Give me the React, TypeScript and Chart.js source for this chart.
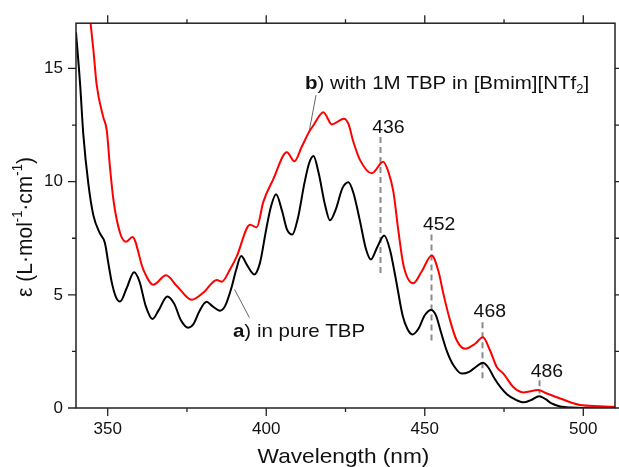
import { useEffect, useRef } from "react";
import { Chart, registerables } from "chart.js";

Chart.register(...registerables);

// a) in pure TBP (black)
const pureWl = [340, 341.3, 342.3, 343.9, 345.5, 347.6, 349.1, 350.2, 351.3, 352.6, 353.9, 356, 358.3, 360, 362, 364.1, 366, 368.8, 371, 373, 375.4, 377, 379, 381.2, 383, 385.4, 387, 389, 390.5, 392.1, 394, 396.2, 398, 400, 401.5, 403.1, 405, 406.5, 408.2, 410, 412, 413.5, 414.9, 416.5, 418.5, 420.1, 422, 424, 425.9, 427.5, 429.5, 431.5, 433, 435, 437.2, 439, 441, 443, 444.5, 446.1, 448, 450, 452, 453.5, 455, 457, 459, 461.7, 464, 466, 468.3, 470, 472, 474, 476, 478.5, 481.2, 483.5, 486.1, 488, 490, 492.7, 496, 500, 505, 510];
const pureEps = [16.6, 14.3, 12.1, 9.9, 8.5, 7.7, 7.3, 6.4, 5.54, 4.9, 4.7, 5.3, 6.0, 5.6, 4.5, 3.93, 4.3, 4.93, 4.6, 3.9, 3.55, 3.7, 4.3, 4.69, 4.5, 4.3, 4.5, 5.3, 6.1, 6.71, 6.3, 5.9, 6.4, 7.9, 8.9, 9.44, 8.7, 7.9, 7.66, 8.4, 9.9, 10.8, 11.13, 10.4, 9.0, 8.29, 8.8, 9.7, 9.97, 9.5, 8.3, 7.0, 6.56, 7.1, 7.62, 7.0, 5.6, 4.1, 3.5, 3.25, 3.5, 4.1, 4.33, 4.1, 3.4, 2.5, 1.9, 1.52, 1.6, 1.8, 2.0, 1.8, 1.3, 0.9, 0.6, 0.38, 0.25, 0.35, 0.52, 0.4, 0.2, 0.07, 0.02, 0, 0, 0];

// b) with 1M TBP in [Bmim][NTf2] (red)
const ilWl = [343.8, 344.6, 345.5, 346.5, 348.6, 349.7, 350.7, 351.8, 353.9, 355.8, 357.8, 361.2, 364.4, 368.4, 371.8, 376.5, 380.2, 384.4, 386, 388.6, 390.7, 394.9, 397, 399.1, 402.2, 406.5, 408.9, 411.2, 413.5, 414.9, 418, 420.7, 424.5, 425.9, 427.5, 429.6, 433.3, 436.9, 438.5, 440.1, 441.7, 443.3, 446.4, 449.1, 452.2, 454.3, 455.9, 458, 460.1, 462.7, 465.9, 468.3, 470.6, 472.7, 474.8, 477.9, 481.1, 485.8, 488.5, 492.7, 499, 505, 510];
const ilEps = [18.2, 17.0, 15.8, 14.3, 12.85, 12.27, 10.66, 9.2, 7.73, 7.34, 7.56, 6.13, 5.45, 5.86, 5.39, 4.78, 5.1, 5.66, 5.58, 6.13, 6.7, 8.1, 7.98, 9.12, 10.1, 11.3, 10.9, 11.54, 12.19, 12.49, 13.07, 12.53, 12.78, 12.56, 11.75, 10.95, 10.37, 10.88, 10.44, 9.56, 7.8, 6.3, 5.51, 6.05, 6.74, 6.05, 5.03, 3.86, 2.98, 2.62, 2.84, 3.13, 2.54, 1.81, 1.52, 0.93, 0.69, 0.79, 0.64, 0.42, 0.13, 0.08, 0.05];

const xMajor = [350, 400, 450, 500];
const xMinor = [375, 425, 475];
const yMajor = [0, 5, 10, 15];
const yMinor = [2.5, 7.5, 12.5];

const peakWl = [436, 452, 468, 486];
const peakTop = [11.97, 7.66, 3.79, 1.23];
const peakBottom = [5.92, 2.84, 1.15, 0.64];
const peakLabelY = [12.37, 8.1, 4.22, 1.57];

const FONT = "'Liberation Sans', Arial, sans-serif";
const STRETCH = 1.08;

const decorPlugin = {
  id: "decor",
  beforeDatasetsDraw(chart: any) {
    const ctx = chart.ctx;
    const xs = chart.scales.x;
    const ys = chart.scales.y;
    ctx.save();
    ctx.strokeStyle = "#8a8a8a";
    ctx.lineWidth = 2;
    ctx.setLineDash([6, 4]);
    peakWl.forEach((wl, i) => {
      const px = Math.round(xs.getPixelForValue(wl)) + 0.5;
      ctx.beginPath();
      ctx.moveTo(px, ys.getPixelForValue(peakTop[i]));
      ctx.lineTo(px, ys.getPixelForValue(peakBottom[i]));
      ctx.stroke();
    });
    ctx.restore();
  },
  afterDraw(chart: any) {
    const ctx = chart.ctx;
    const xs = chart.scales.x;
    const ys = chart.scales.y;
    const { left, right, top, bottom } = chart.chartArea;
    ctx.save();
    // frame
    ctx.strokeStyle = "#222";
    ctx.lineWidth = 1.5;
    ctx.strokeRect(left, top, right - left, bottom - top);
    // ticks
    ctx.lineWidth = 1.3;
    const xt = (v: number, len: number) => {
      const p = xs.getPixelForValue(v);
      ctx.beginPath();
      ctx.moveTo(p, bottom);
      ctx.lineTo(p, bottom + len);
      ctx.moveTo(p, top);
      ctx.lineTo(p, top - len);
      ctx.stroke();
    };
    const yt = (v: number, len: number) => {
      const p = ys.getPixelForValue(v);
      ctx.beginPath();
      ctx.moveTo(left, p);
      ctx.lineTo(left - len, p);
      ctx.moveTo(right, p);
      ctx.lineTo(right + len, p);
      ctx.stroke();
    };
    xMajor.forEach((v) => xt(v, 8));
    xMinor.forEach((v) => xt(v, 4));
    yMajor.forEach((v) => yt(v, 8));
    yMinor.forEach((v) => yt(v, 4));

    // stretched text helper (centered or left)
    const sText = (t: string, x: number, y: number, align: "left" | "center") => {
      ctx.save();
      ctx.translate(x, y);
      ctx.scale(STRETCH, 1);
      ctx.textAlign = align;
      ctx.textBaseline = "middle";
      ctx.fillText(t, 0, 0);
      ctx.restore();
    };

    // peak labels
    ctx.fillStyle = "#111";
    ctx.font = `18px ${FONT}`;
    peakWl.forEach((wl, i) => {
      sText(String(wl), xs.getPixelForValue(wl) + 8, ys.getPixelForValue(peakLabelY[i]), "center");
    });

    // leader lines
    ctx.strokeStyle = "#555";
    ctx.lineWidth = 0.9;
    ctx.beginPath();
    ctx.moveTo(xs.getPixelForValue(415.7), ys.getPixelForValue(13.82));
    ctx.lineTo(xs.getPixelForValue(413.5), ys.getPixelForValue(12.19));
    ctx.moveTo(xs.getPixelForValue(390.0), ys.getPixelForValue(5.24));
    ctx.lineTo(xs.getPixelForValue(394.7), ys.getPixelForValue(3.99));
    ctx.stroke();

    // series labels
    const drawParts = (x: number, y: number, parts: { t: string; bold?: boolean; sub?: boolean }[], size: number) => {
      let cx = x;
      parts.forEach((p) => {
        const s = p.sub ? Math.round(size * 0.62) : size;
        ctx.font = `${p.bold ? "bold " : ""}${s}px ${FONT}`;
        sText(p.t, cx, p.sub ? y + size * 0.3 : y, "left");
        cx += ctx.measureText(p.t).width * STRETCH;
      });
    };
    ctx.fillStyle = "#111";
    drawParts(xs.getPixelForValue(412.2), ys.getPixelForValue(14.31), [
      { t: "b", bold: true },
      { t: ") with 1M TBP in [Bmim][NTf" },
      { t: "2", sub: true },
      { t: "]" },
    ], 19);
    drawParts(xs.getPixelForValue(389.5), ys.getPixelForValue(3.35), [
      { t: "a", bold: true },
      { t: ") in pure TBP" },
    ], 19);

    // x title
    ctx.fillStyle = "#111";
    ctx.font = `21px ${FONT}`;
    sText("Wavelength (nm)", (left + right) / 2 - 2, 457, "center");

    // y title (rotated) with superscripts
    const size = 21;
    const sup = 13;
    const yparts: { t: string; sup?: boolean }[] = [
      { t: "\u03b5 (L\u00b7mol" },
      { t: "-1", sup: true },
      { t: "\u00b7cm" },
      { t: "-1", sup: true },
      { t: ")" },
    ];
    let total = 0;
    yparts.forEach((p) => {
      ctx.font = `${p.sup ? sup : size}px ${FONT}`;
      total += ctx.measureText(p.t).width;
    });
    ctx.translate(26, 227);
    ctx.rotate(-Math.PI / 2);
    ctx.scale(1, STRETCH);
    ctx.textAlign = "left";
    ctx.textBaseline = "middle";
    let cx = -total / 2;
    yparts.forEach((p) => {
      ctx.font = `${p.sup ? sup : size}px ${FONT}`;
      ctx.fillText(p.t, cx, p.sup ? -7 : 0);
      cx += ctx.measureText(p.t).width;
    });
    ctx.restore();
  },
};

export default function App() {
  const ref = useRef<HTMLCanvasElement | null>(null);
  useEffect(() => {
    if (!ref.current) return;
    const chart = new Chart(ref.current, {
      type: "line",
      data: {
        datasets: [
          {
            label: "b) with 1M TBP in [Bmim][NTf2]",
            data: ilWl.map((x, i) => ({ x, y: ilEps[i] })),
            borderColor: "#ff0000",
            borderWidth: 2,
            pointRadius: 0,
            cubicInterpolationMode: "monotone",
            fill: false,
          },
          {
            label: "a) in pure TBP",
            data: pureWl.map((x, i) => ({ x, y: pureEps[i] })),
            borderColor: "#000000",
            borderWidth: 2,
            pointRadius: 0,
            cubicInterpolationMode: "monotone",
            fill: false,
          },
        ],
      },
      options: {
        responsive: false,
        animation: false,
        events: [],
        layout: { padding: { left: 0, right: 4, top: 20, bottom: 0 } },
        plugins: { legend: { display: false }, tooltip: { enabled: false } },
        scales: {
          x: {
            type: "linear",
            min: 340,
            max: 510,
            grid: { display: false, drawTicks: false },
            border: { display: false },
            afterBuildTicks: (s: any) => {
              s.ticks = xMajor.map((v) => ({ value: v }));
            },
            afterFit: (s: any) => {
              s.height = 59;
            },
            ticks: {
              padding: 11,
              color: "#111",
              maxRotation: 0,
              autoSkip: false,
              font: { family: FONT, size: 17 },
            },
          },
          y: {
            type: "linear",
            min: 0,
            max: 17,
            grid: { display: false, drawTicks: false },
            border: { display: false },
            afterBuildTicks: (s: any) => {
              s.ticks = yMajor.map((v) => ({ value: v }));
            },
            afterFit: (s: any) => {
              s.width = 76;
            },
            ticks: {
              padding: 13,
              color: "#111",
              autoSkip: false,
              font: { family: FONT, size: 17 },
            },
          },
        },
      } as any,
      plugins: [decorPlugin],
    });
    return () => chart.destroy();
  }, []);
  return (
    <div style={{ position: "fixed", left: 0, top: 0, width: 619, height: 467, background: "#fff" }}>
      <canvas ref={ref} width={619} height={467} style={{ display: "block" }} />
    </div>
  );
}
